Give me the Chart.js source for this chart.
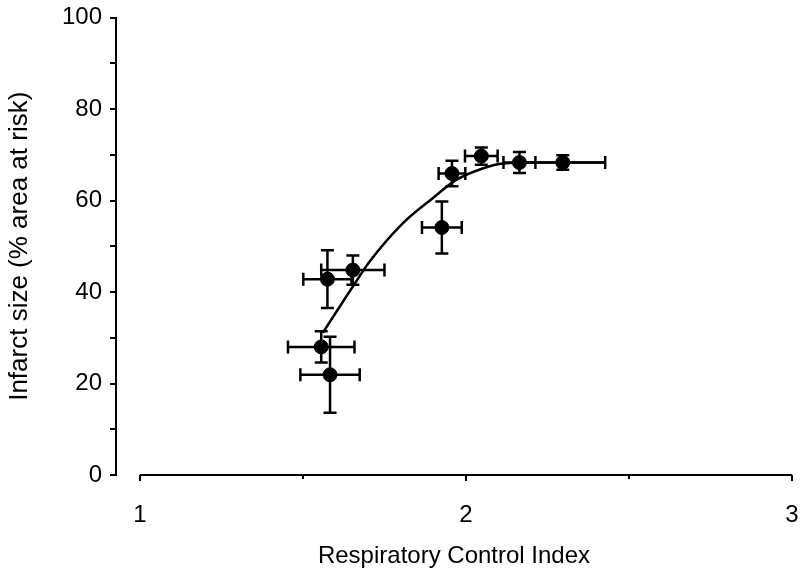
<!DOCTYPE html>
<html lang="en">

<head>
    <meta charset="UTF-8">
    <title>Infarct size vs Respiratory Control Index</title>
    <script src="https://cdn.jsdelivr.net/npm/chart.js"></script>
    <style>
        html, body { margin: 0; padding: 0; background: #ffffff; }
        #wrap { width: 800px; height: 571px; }
    </style>
</head>

<body>
    <div id="wrap"><canvas id="rciChart"></canvas></div>

    <script>
        // Group means: respiratory control index (x) vs infarct size (y)
        const rciValues = [1.556, 1.583, 1.575, 1.653, 1.926, 1.957, 2.047, 2.164, 2.297];
        const infarctValues = [28.0, 21.9, 42.8, 44.8, 54.1, 65.9, 69.7, 68.3, 68.3];
        const rciErrors = [0.102, 0.091, 0.074, 0.097, 0.061, 0.041, 0.05, 0.049, 0.13];
        const infarctErrors = [3.4, 8.3, 6.3, 3.2, 5.7, 2.8, 1.9, 2.3, 1.6];

        // Fitted curve, sampled along its length
        const fitX = [1.561, 1.653, 1.704, 1.806, 1.898, 1.970, 2.051, 2.113, 2.225, 2.426];
        const fitY = [31.1, 41.2, 46.6, 55.0, 60.5, 64.5, 67.0, 68.1, 68.3, 68.3];

        const xTicks = [1, 1.5, 2, 2.5, 3];
        const xLabels = [1, 2, 3];
        const yLabelStep = 20;

        const FONT = { family: '"Liberation Sans", Arial, sans-serif', size: 24 };

        // error bars drawn behind the markers
        const errorBars = {
            id: 'errorBars',
            beforeDatasetsDraw(chart) {
                const { ctx, scales: { x, y } } = chart;
                const cap = 6.5;
                ctx.save();
                ctx.strokeStyle = '#000';
                ctx.lineWidth = 2.5;
                rciValues.forEach((v, i) => {
                    const px = x.getPixelForValue(v);
                    const py = y.getPixelForValue(infarctValues[i]);
                    const x0 = x.getPixelForValue(v - rciErrors[i]);
                    const x1 = x.getPixelForValue(v + rciErrors[i]);
                    const y0 = y.getPixelForValue(infarctValues[i] - infarctErrors[i]);
                    const y1 = y.getPixelForValue(infarctValues[i] + infarctErrors[i]);
                    ctx.beginPath();
                    ctx.moveTo(x0, py); ctx.lineTo(x1, py);
                    ctx.moveTo(x0, py - cap); ctx.lineTo(x0, py + cap);
                    ctx.moveTo(x1, py - cap); ctx.lineTo(x1, py + cap);
                    ctx.moveTo(px, y0); ctx.lineTo(px, y1);
                    ctx.moveTo(px - cap, y0); ctx.lineTo(px + cap, y0);
                    ctx.moveTo(px - cap, y1); ctx.lineTo(px + cap, y1);
                    ctx.stroke();
                });
                ctx.restore();
            }
        };

        // x axis line runs only from 1 to 3, detached from the y axis
        const xAxisLine = {
            id: 'xAxisLine',
            afterDraw(chart) {
                const { ctx, scales: { x, y } } = chart;
                const yb = y.getPixelForValue(0);
                ctx.save();
                ctx.strokeStyle = '#000';
                ctx.lineWidth = 2;
                ctx.beginPath();
                ctx.moveTo(x.getPixelForValue(1), yb);
                ctx.lineTo(x.getPixelForValue(3), yb);
                xTicks.forEach(t => {
                    const px = x.getPixelForValue(t);
                    const len = Number.isInteger(t) ? 6 : 4;
                    ctx.moveTo(px, yb);
                    ctx.lineTo(px, yb + len);
                });
                ctx.stroke();
                ctx.restore();
            }
        };

        new Chart(document.getElementById('rciChart'), {
            type: 'scatter',
            data: {
                datasets: [{
                    type: 'line',
                    data: fitX.map((v, i) => ({ x: v, y: fitY[i] })),
                    borderColor: '#000',
                    borderWidth: 2.5,
                    pointRadius: 0,
                    cubicInterpolationMode: 'monotone',
                    fill: false
                }, {
                    data: rciValues.map((v, i) => ({ x: v, y: infarctValues[i] })),
                    backgroundColor: '#000',
                    borderColor: '#000',
                    pointRadius: 7,
                    pointHoverRadius: 7
                }]
            },
            options: {
                responsive: true,
                maintainAspectRatio: false,
                animation: false,
                events: [],
                layout: { padding: { top: 17.5, right: 7, left: 0, bottom: 0 } },
                plugins: {
                    legend: { display: false },
                    tooltip: { enabled: false }
                },
                scales: {
                    x: {
                        type: 'linear',
                        min: 0.9265,
                        max: 3,
                        afterBuildTicks: s => { s.ticks = xTicks.map(v => ({ value: v })); },
                        afterFit: s => { s.height = 96; s.paddingLeft = 0; s.paddingRight = 0; },
                        border: { display: false },
                        grid: { display: false },
                        ticks: {
                            color: '#000',
                            font: FONT,
                            padding: 18,
                            autoSkip: false,
                            maxRotation: 0,
                            callback: v => xLabels.includes(v) ? v : ''
                        },
                        title: {
                            display: true,
                            text: 'Respiratory Control Index',
                            color: '#000',
                            font: FONT,
                            padding: { top: 10, bottom: 0 }
                        }
                    },
                    y: {
                        min: 0,
                        max: 100,
                        afterFit: s => { s.width = 116; s.paddingTop = 0; s.paddingBottom = 0; },
                        border: { display: true, color: '#000', width: 2 },
                        grid: {
                            drawOnChartArea: false,
                            drawTicks: true,
                            tickLength: 6,
                            color: '#000',
                            lineWidth: 2
                        },
                        ticks: {
                            stepSize: 10,
                            color: '#000',
                            font: FONT,
                            padding: 8,
                            callback: v => v % yLabelStep === 0 ? v : ''
                        },
                        title: {
                            display: true,
                            text: 'Infarct size (% area at risk)',
                            color: '#000',
                            font: { family: FONT.family, size: 26 },
                            padding: { top: 4, bottom: 4 }
                        }
                    }
                }
            },
            plugins: [errorBars, xAxisLine]
        });
    </script>
</body>

</html>
